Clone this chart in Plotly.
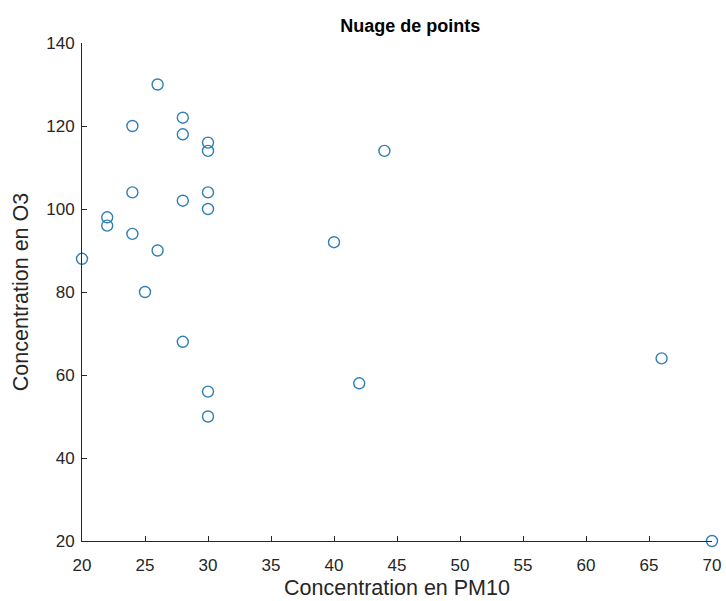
import plotly.graph_objects as go

pm10 = [26, 28, 28, 24, 30, 30, 44, 24, 30, 28, 30, 22, 22, 24, 40, 26, 20, 25, 28, 66, 42, 30, 30, 70]
o3 = [130, 122, 118, 120, 116, 114, 114, 104, 104, 102, 100, 98, 96, 94, 92, 90, 88, 80, 68, 64, 58, 56, 50, 20]
x_ticks = [20, 25, 30, 35, 40, 45, 50, 55, 60, 65, 70]
y_ticks = [20, 40, 60, 80, 100, 120, 140]

FONT = "Liberation Sans, Arial, sans-serif"

fig = go.Figure()
fig.add_trace(go.Scatter(
    x=pm10, y=o3, mode="markers",
    marker=dict(symbol="circle-open", size=11, color="#2F7FB5", line=dict(width=1.4, color="#2F7FB5")),
    cliponaxis=False, showlegend=False,
))

axis_common = dict(
    showgrid=False, zeroline=False, showline=True, linecolor="#262626", linewidth=1,
    ticks="inside", ticklen=5, tickcolor="#262626",
    tickfont=dict(family=FONT, size=17, color="#262626"),
    title_font=dict(family=FONT, size=21.5, color="#262626"),
    mirror=False, automargin=False,
)

fig.update_layout(
    width=726, height=601,
    margin=dict(l=82, r=14, t=43, b=60),
    paper_bgcolor="white", plot_bgcolor="white",
    title=dict(text="<b>Nuage de points</b>", x=0.565, xanchor="center", y=0.958, yanchor="middle",
               font=dict(family=FONT, size=18, color="black")),
    xaxis=dict(range=[20, 70], tickvals=x_ticks, ticklabelstandoff=9,
               title=dict(text="Concentration en PM10", standoff=5), **axis_common),
    yaxis=dict(range=[20, 140], tickvals=y_ticks, ticklabelstandoff=3,
               title=dict(text="Concentration en O3", standoff=11), **axis_common),
)

fig.write_html("out.html", config={"displayModeBar": False},
               post_script="document.body.style.margin='0';document.body.style.overflow='hidden';")
